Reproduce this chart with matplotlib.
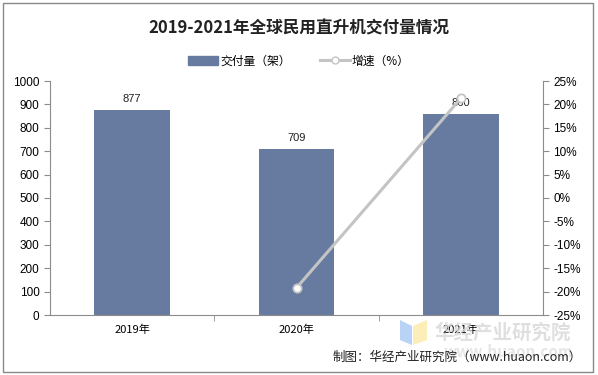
import matplotlib.pyplot as plt
from matplotlib.lines import Line2D
from matplotlib.patches import Patch, Rectangle, Polygon

plt.rcParams['font.family'] = ['Noto Sans CJK SC', 'DejaVu Sans']

years = ['2019年', '2020年', '2021年']
deliveries = [877, 709, 860]
growth = [None, -19.2, 21.3]

bar_color = '#677ba1'
line_color = '#c4c4c4'
axis_color = '#8c8c8c'

fig = plt.figure(figsize=(5.98, 3.75), dpi=100)
ax = fig.add_axes([50 / 598, 1 - 315 / 375, 493 / 598, 234 / 375])

x = list(range(len(years)))
bars = ax.bar(x, deliveries, width=0.46, color=bar_color, zorder=2)
for xi, v in zip(x, deliveries):
    ax.text(xi, v + 25, str(v), ha='center', va='bottom', fontsize=8, color='#222222',
            family=['Liberation Sans', 'DejaVu Sans'], zorder=5)

ax.set_xlim(-0.5, 2.5)
ax.set_ylim(0, 1000)
ax.set_yticks(range(0, 1001, 100))
ax.set_xticks(x)
ax.set_xticklabels(years, fontsize=8)
ax.set_xticks([0.5, 1.5], minor=True)
ax.tick_params(axis='x', which='major', length=0, pad=7)
ax.tick_params(axis='x', which='minor', length=4, color=axis_color)
ax.tick_params(axis='y', length=4, color=axis_color, labelsize=8.5)
for lab in ax.get_yticklabels():
    lab.set_family(['Liberation Sans', 'DejaVu Sans'])
for s in ['top', 'right']:
    ax.spines[s].set_visible(False)
for s in ['left', 'bottom']:
    ax.spines[s].set_color(axis_color)

ax2 = ax.twinx()
gx = [xi for xi, g in zip(x, growth) if g is not None]
gy = [g for g in growth if g is not None]
ax2.plot(gx, gy, color=line_color, lw=2.2, marker='o', ms=6, mfc='white',
         mec=line_color, mew=1.3, zorder=4)
ax2.set_ylim(-25, 25)
ax2.set_yticks(range(-25, 26, 5))
ax2.set_yticklabels([f'{t}%' for t in range(-25, 26, 5)], fontsize=8.5,
                    family=['Liberation Sans', 'DejaVu Sans'])
ax2.tick_params(axis='y', length=4, color=axis_color)
for s in ['top', 'left', 'bottom']:
    ax2.spines[s].set_visible(False)
ax2.spines['right'].set_color(axis_color)

fig.text(0.5, 1 - 28 / 375, '2019-2021年全球民用直升机交付量情况', ha='center', va='center',
         fontsize=12, fontweight='bold', color='#222222')

handles = [Patch(color=bar_color),
           Line2D([0], [0], color=line_color, lw=2.2, marker='o', ms=5, mfc='white',
                  mec=line_color)]
fig.legend(handles, ['交付量（架）', '增速（%）'], loc='center', ncol=2,
           bbox_to_anchor=(0.5, 1 - 61 / 375), frameon=False, fontsize=8.5,
           handlelength=2.5, columnspacing=2.5, handletextpad=0.2)

# watermark logo + text
def px(xp, yp):
    return (xp / 598, 1 - yp / 375)

fig.patches.append(Polygon([px(400, 320), px(412, 326), px(412, 345), px(400, 340)],
                           closed=True, transform=fig.transFigure,
                           color='#b8d3f5', lw=0, zorder=0))
fig.patches.append(Polygon([px(413, 326), px(427, 320), px(427, 340), px(413, 345)],
                           closed=True, transform=fig.transFigure,
                           color='#fbeeb8', lw=0, zorder=0))
fig.text(0.84, 1 - 333 / 375, '华经产业研究院', ha='center', va='center', fontsize=14,
         fontweight='bold', color='#d8d8d8', alpha=0.8, zorder=0)
fig.text(0.85, 1 - 352 / 375, 'www.huaon.com', ha='center', va='center', fontsize=11,
         fontweight='bold', color='#e0e0e0', alpha=0.8, zorder=0)

fig.text(582 / 598, 1 - 357 / 375, '制图：华经产业研究院（www.huaon.com）', ha='right',
         va='center', fontsize=9, color='#222222')

fig.patches.append(Rectangle((3 / 598, 3 / 375), 590 / 598, 369 / 375,
                             transform=fig.transFigure, fill=False,
                             edgecolor='#8a8a8a', lw=1))

fig.savefig('out.png', dpi=100)
